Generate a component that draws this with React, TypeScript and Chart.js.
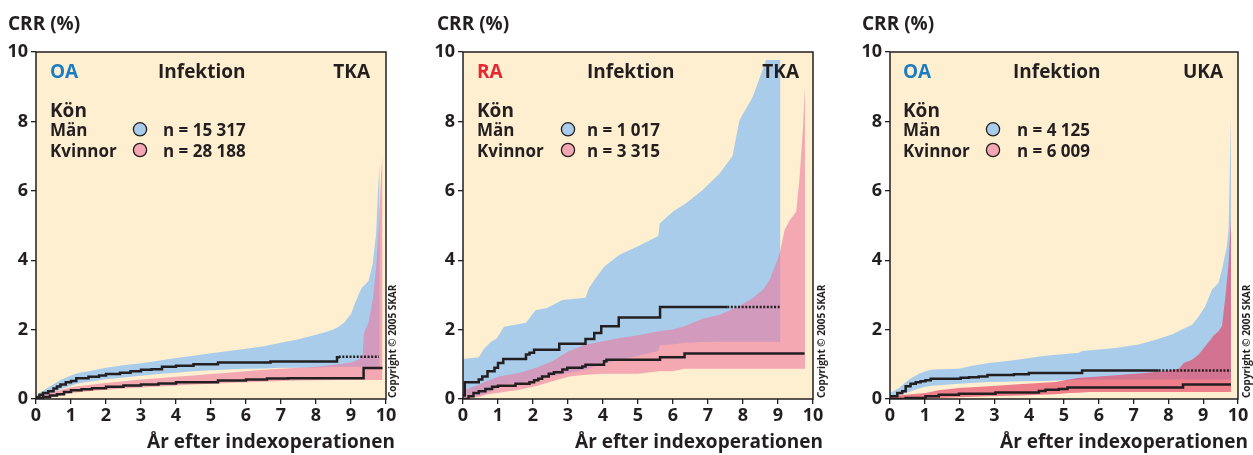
import React, { useEffect, useRef } from 'react';
import { Chart, registerables } from 'chart.js';

Chart.register(...registerables);

type Pt = [number, number];
type Band = [number, number, number]; // [x, lower, upper]

// ---------- shared texts / ticks ----------
const yAxisTitle = 'CRR (%)';
const xAxisTitle = 'År efter indexoperationen';
const copyrightText = 'Copyright © 2005 SKAR';
const outcomeLabel = 'Infektion';
const legendTitle = 'Kön';
const menLabel = 'Män';
const womenLabel = 'Kvinnor';
const diagnoses = ['OA', 'RA', 'OA'];
const implants = ['TKA', 'TKA', 'UKA'];
const menCounts = ['n = 15 317', 'n = 1 017', 'n = 4 125'];
const womenCounts = ['n = 28 188', 'n = 3 315', 'n = 6 009'];
const xMin = 0, xMax = 10, xStep = 1;
const yMin = 0, yMax = 10, yStep = 2;

// ---------- Panel 1: OA TKA ----------
const oaTkaMenLine: Pt[] = [
  [0, 0.05], [0.1, 0.12], [0.2, 0.17], [0.35, 0.22], [0.5, 0.3], [0.6, 0.36], [0.7, 0.42],
  [0.85, 0.48], [1.0, 0.52], [1.15, 0.6], [1.5, 0.64], [1.8, 0.68], [2.0, 0.72], [2.4, 0.76],
  [2.7, 0.8], [3.0, 0.84], [3.3, 0.86], [3.6, 0.93], [4.0, 0.96], [4.5, 1.0], [5.2, 1.05],
  [6.7, 1.08], [8.6, 1.2], [8.65, 1.22], [9.8, 1.22],
];
const oaTkaMenDottedFrom = 8.65;
const oaTkaMenBand: Band[] = [
  [0, 0.02, 0.1], [0.3, 0.1, 0.3], [0.5, 0.18, 0.42], [0.7, 0.28, 0.55], [1.0, 0.38, 0.68],
  [1.2, 0.45, 0.75], [1.5, 0.5, 0.8], [2.0, 0.57, 0.9], [2.5, 0.62, 0.97], [3.0, 0.67, 1.03],
  [3.5, 0.72, 1.1], [4.0, 0.76, 1.18], [4.5, 0.8, 1.25], [5.0, 0.83, 1.32], [5.5, 0.85, 1.38],
  [6.0, 0.87, 1.45], [6.5, 0.88, 1.52], [7.0, 0.9, 1.62], [7.5, 0.9, 1.72], [8.0, 0.91, 1.85],
  [8.4, 0.92, 1.97], [8.6, 0.93, 2.05], [8.8, 0.93, 2.2], [9.0, 0.93, 2.45], [9.15, 0.93, 2.85],
  [9.3, 0.93, 3.2], [9.5, 0.93, 3.4], [9.62, 0.93, 3.9], [9.72, 0.93, 4.8], [9.77, 0.93, 6.0],
  [9.82, 0.93, 6.8],
];
const oaTkaWomenLine: Pt[] = [
  [0, 0.02], [0.2, 0.06], [0.4, 0.1], [0.6, 0.14], [0.8, 0.2], [1.0, 0.25], [1.3, 0.28],
  [1.6, 0.31], [2.0, 0.35], [2.5, 0.39], [3.0, 0.42], [3.5, 0.45], [4.0, 0.48], [5.2, 0.53],
  [6.0, 0.56], [6.6, 0.59], [7.2, 0.6], [9.36, 0.89], [9.9, 0.89],
];
const oaTkaWomenBand: Band[] = [
  [0, 0, 0.06], [0.5, 0.06, 0.2], [1.0, 0.17, 0.34], [1.5, 0.22, 0.4], [2.0, 0.27, 0.46],
  [2.5, 0.3, 0.51], [3.0, 0.33, 0.56], [3.5, 0.36, 0.6], [4.0, 0.39, 0.64], [4.5, 0.42, 0.68],
  [5.0, 0.44, 0.72], [5.5, 0.46, 0.76], [6.0, 0.48, 0.8], [6.5, 0.5, 0.84], [7.0, 0.52, 0.87],
  [7.5, 0.53, 0.9], [8.0, 0.54, 0.93], [8.5, 0.55, 0.98], [9.0, 0.55, 1.05], [9.25, 0.55, 1.15],
  [9.33, 0.55, 1.25], [9.37, 0.55, 1.9], [9.5, 0.55, 2.2], [9.62, 0.55, 2.85], [9.72, 0.55, 3.8],
  [9.8, 0.55, 5.0], [9.86, 0.55, 6.5], [9.9, 0.55, 7.0],
];

// ---------- Panel 2: RA TKA ----------
const raTkaMenLine: Pt[] = [
  [0, 0.1], [0.05, 0.48], [0.45, 0.56], [0.55, 0.65], [0.7, 0.8], [0.9, 0.9], [1.0, 1.04],
  [1.15, 1.15], [1.8, 1.28], [1.9, 1.33], [2.03, 1.42], [2.75, 1.59], [3.5, 1.73], [3.75, 1.9],
  [3.95, 2.1], [4.45, 2.35], [5.63, 2.65], [7.55, 2.65], [9.05, 2.65],
];
const raTkaMenDottedFrom = 7.55;
const raTkaMenBand: Band[] = [
  [0, 0.05, 1.15], [0.45, 0.1, 1.2], [0.6, 0.15, 1.45], [0.8, 0.22, 1.65], [0.97, 0.3, 1.75],
  [1.17, 0.42, 2.08], [1.8, 0.48, 2.2], [2.07, 0.56, 2.56], [2.4, 0.62, 2.62], [2.84, 0.72, 2.85],
  [3.5, 0.84, 2.92], [3.6, 0.88, 3.2], [3.79, 0.95, 3.48], [4.03, 1.02, 3.81], [4.46, 1.12, 4.15],
  [5.0, 1.25, 4.4], [5.58, 1.38, 4.7], [5.62, 1.55, 5.06], [6.0, 1.58, 5.4], [6.37, 1.62, 5.64],
  [6.85, 1.64, 6.02], [7.33, 1.65, 6.5], [7.7, 1.65, 7.0], [7.9, 1.65, 8.04], [8.28, 1.65, 8.71],
  [8.66, 1.65, 9.77], [9.07, 1.65, 9.77],
];
const raTkaWomenLine: Pt[] = [
  [0, 0], [0.16, 0.08], [0.3, 0.17], [0.45, 0.22], [0.64, 0.29], [0.83, 0.35], [1.0, 0.38],
  [1.5, 0.44], [1.9, 0.48], [2.03, 0.54], [2.15, 0.58], [2.26, 0.65], [2.45, 0.73], [2.6, 0.77],
  [2.84, 0.85], [2.98, 0.9], [3.41, 0.94], [3.5, 0.99], [4.03, 1.09], [4.1, 1.13], [5.63, 1.2],
  [6.33, 1.31], [9.76, 1.31],
];
const raTkaWomenBand: Band[] = [
  [0, 0, 0.2], [0.07, 0.0, 0.27], [0.45, 0.06, 0.41], [0.64, 0.12, 0.5], [1.02, 0.18, 0.65],
  [1.6, 0.27, 0.75], [2.07, 0.37, 0.89], [2.55, 0.51, 1.09], [3.03, 0.65, 1.38], [3.5, 0.7, 1.57],
  [3.98, 0.73, 1.66], [4.46, 0.73, 1.76], [4.98, 0.73, 1.83], [5.6, 0.8, 1.95], [5.99, 0.8, 2.0],
  [6.33, 0.87, 2.1], [6.85, 0.87, 2.31], [7.33, 0.87, 2.43], [7.8, 0.87, 2.63], [8.28, 0.87, 2.91],
  [8.57, 0.87, 3.15], [8.76, 0.87, 3.44], [8.95, 0.87, 3.92], [9.05, 0.87, 4.2], [9.19, 0.87, 4.88],
  [9.34, 0.87, 5.16], [9.52, 0.87, 5.4], [9.61, 0.87, 6.3], [9.71, 0.87, 7.75], [9.77, 0.87, 9.0],
];

// ---------- Panel 3: OA UKA ----------
const oaUkaMenLine: Pt[] = [
  [0, 0.08], [0.21, 0.17], [0.35, 0.22], [0.45, 0.37], [0.59, 0.44], [0.74, 0.48], [0.88, 0.51],
  [1.02, 0.54], [1.17, 0.58], [2.03, 0.61], [2.27, 0.63], [2.55, 0.65], [2.8, 0.69], [3.56, 0.71],
  [3.99, 0.75], [5.52, 0.82], [7.72, 0.82], [9.8, 0.82],
];
const oaUkaMenDottedFrom = 7.72;
const oaUkaMenBand: Band[] = [
  [0, 0.03, 0.17], [0.26, 0.1, 0.32], [0.45, 0.17, 0.48], [0.55, 0.2, 0.56], [0.83, 0.3, 0.73],
  [1.02, 0.35, 0.8], [1.22, 0.38, 0.85], [1.98, 0.44, 0.87], [2.36, 0.46, 0.96], [2.84, 0.49, 1.04],
  [3.32, 0.5, 1.09], [3.8, 0.51, 1.15], [4.47, 0.52, 1.25], [5.04, 0.54, 1.3], [5.43, 0.55, 1.33],
  [5.52, 0.56, 1.38], [6.48, 0.56, 1.47], [7.15, 0.56, 1.57], [7.63, 0.56, 1.71], [8.1, 0.56, 1.86],
  [8.39, 0.56, 2.0], [8.68, 0.56, 2.14], [8.87, 0.56, 2.38], [9.06, 0.56, 2.67], [9.25, 0.56, 3.15],
  [9.44, 0.56, 3.35], [9.54, 0.56, 3.73], [9.68, 0.56, 4.4], [9.73, 0.56, 4.9], [9.8, 0.56, 8.2],
];
const oaUkaWomenLine: Pt[] = [
  [0, 0], [0.45, 0.03], [1.02, 0.08], [1.4, 0.12], [1.98, 0.15], [3.03, 0.19], [4.28, 0.23],
  [4.47, 0.27], [4.85, 0.29], [5.1, 0.33], [8.42, 0.42], [9.8, 0.42],
];
const oaUkaWomenBand: Band[] = [
  [0, 0, 0.08], [0.45, 0.01, 0.12], [1.02, 0.02, 0.17], [1.4, 0.03, 0.25], [1.98, 0.05, 0.32],
  [2.84, 0.08, 0.37], [3.8, 0.1, 0.43], [4.28, 0.12, 0.46], [4.76, 0.14, 0.49], [5.14, 0.17, 0.56],
  [5.43, 0.18, 0.61], [5.71, 0.2, 0.63], [6.0, 0.2, 0.65], [6.67, 0.2, 0.7], [7.34, 0.2, 0.75],
  [7.91, 0.2, 0.81], [8.3, 0.2, 0.87], [8.44, 0.2, 1.04], [8.68, 0.2, 1.13], [8.87, 0.2, 1.28],
  [9.06, 0.2, 1.52], [9.21, 0.2, 1.71], [9.3, 0.2, 1.83], [9.44, 0.2, 1.95], [9.54, 0.2, 2.1],
  [9.64, 0.2, 2.96], [9.73, 0.2, 3.92], [9.8, 0.2, 5.2],
];

// ---------- styles ----------
const INK = '#231f20';
const BEIGE = '#feefd0';
const BLUE = '#a9ccea';
const PINK_SOFT = 'rgba(236,122,158,0.61)';
const PINK_STRONG = 'rgba(230,76,106,0.69)';
const LEGEND_BLUE = '#a9ccea';
const LEGEND_PINK = '#f4a7b2';
const OA_COLOR = '#1a7dc4';
const RA_COLOR = '#e8262f';
const FONT = '"Open Sans", "Noto Sans", sans-serif';

interface PanelCfg {
  canvasLeft: number;
  canvasWidth: number;
  plotLeft: number;
  plotRight: number;
  idx: number;
  diagColor: string;
  menLine: Pt[];
  womenLine: Pt[];
  menBand: Band[];
  womenBand: Band[];
  menDottedFrom: number;
  womenFill: string;
  crrX: number;
  diagX: number;
  outcomeX: number;
  implantRight: number;
  circleX: number;
  countX: number;
  xTitleRight: number;
  copyX: number;
}

const panels: PanelCfg[] = [
  {
    canvasLeft: 0, canvasWidth: 420, plotLeft: 36, plotRight: 386, idx: 0, diagColor: OA_COLOR,
    menLine: oaTkaMenLine, womenLine: oaTkaWomenLine, menBand: oaTkaMenBand, womenBand: oaTkaWomenBand,
    menDottedFrom: oaTkaMenDottedFrom, womenFill: PINK_SOFT,
    crrX: 8, diagX: 50, outcomeX: 158, implantRight: 370, circleX: 140, countX: 163, xTitleRight: 395, copyX: 393,
  },
  {
    canvasLeft: 420, canvasWidth: 420, plotLeft: 43, plotRight: 393, idx: 1, diagColor: RA_COLOR,
    menLine: raTkaMenLine, womenLine: raTkaWomenLine, menBand: raTkaMenBand, womenBand: raTkaWomenBand,
    menDottedFrom: raTkaMenDottedFrom, womenFill: PINK_SOFT,
    crrX: 17, diagX: 57, outcomeX: 167, implantRight: 379, circleX: 148, countX: 167, xTitleRight: 403, copyX: 402,
  },
  {
    canvasLeft: 840, canvasWidth: 413, plotLeft: 50, plotRight: 398, idx: 2, diagColor: OA_COLOR,
    menLine: oaUkaMenLine, womenLine: oaUkaWomenLine, menBand: oaUkaMenBand, womenBand: oaUkaWomenBand,
    menDottedFrom: oaUkaMenDottedFrom, womenFill: PINK_STRONG,
    crrX: 22, diagX: 63, outcomeX: 173, implantRight: 383, circleX: 153, countX: 177, xTitleRight: 408, copyX: 407,
  },
];

const H = 455;
const PLOT_TOP = 52;
const PLOT_BOTTOM = 399;

function makeChart(canvas: HTMLCanvasElement, p: PanelCfg): Chart {
  const bandPts = (b: Band[], k: 1 | 2) => b.map((r) => ({ x: r[0], y: r[k] }));
  const linePts = (l: Pt[]) => l.map((r) => ({ x: r[0], y: r[1] }));
  const clear = 'rgba(0,0,0,0)';

  const decor = {
    id: 'decor' + p.idx,
    beforeDraw(chart: any) {
      const { ctx, chartArea: a } = chart;
      ctx.save();
      ctx.fillStyle = BEIGE;
      ctx.fillRect(a.left, a.top, a.right - a.left, a.bottom - a.top);
      ctx.restore();
    },
    afterDraw(chart: any) {
      const { ctx, chartArea: a } = chart;
      ctx.save();
      ctx.strokeStyle = INK;
      ctx.lineWidth = 1.5;
      ctx.strokeRect(a.left, a.top, a.right - a.left, a.bottom - a.top);

      ctx.fillStyle = INK;
      ctx.textBaseline = 'alphabetic';
      ctx.textAlign = 'left';
      ctx.font = `bold 19px ${FONT}`;
      ctx.fillText(yAxisTitle, p.crrX, 30);

      // header row inside plot
      ctx.fillStyle = p.diagColor;
      ctx.fillText(diagnoses[p.idx], p.diagX, 78);
      ctx.fillStyle = INK;
      ctx.fillText(outcomeLabel, p.outcomeX, 78);
      ctx.textAlign = 'right';
      ctx.fillText(implants[p.idx], p.implantRight, 78);

      // legend
      ctx.textAlign = 'left';
      ctx.font = `bold 19px ${FONT}`;
      ctx.fillText(legendTitle, p.diagX, 116.5);
      ctx.font = `bold 17px ${FONT}`;
      ctx.fillText(menLabel, p.diagX, 136);
      ctx.fillText(womenLabel, p.diagX, 156.5);
      ctx.fillText(menCounts[p.idx], p.countX, 136);
      ctx.fillText(womenCounts[p.idx], p.countX, 156.5);
      const circ = (y: number, c: string) => {
        ctx.beginPath();
        ctx.arc(p.circleX, y, 6.6, 0, Math.PI * 2);
        ctx.fillStyle = c;
        ctx.fill();
        ctx.lineWidth = 1.3;
        ctx.strokeStyle = INK;
        ctx.stroke();
      };
      circ(129.3, LEGEND_BLUE);
      circ(150, LEGEND_PINK);

      // x-axis title
      ctx.fillStyle = INK;
      ctx.textAlign = 'right';
      ctx.font = `bold 19px ${FONT}`;
      ctx.fillText(xAxisTitle, p.xTitleRight, 448);

      // copyright
      ctx.translate(p.copyX, 398);
      ctx.rotate(-Math.PI / 2);
      ctx.textAlign = 'left';
      ctx.textBaseline = 'middle';
      ctx.font = `bold 10px ${FONT}`;
      ctx.fillText(copyrightText, 0, 0);
      ctx.restore();
    },
  };

  const lineCommon = {
    pointRadius: 0,
    tension: 0,
  };

  return new Chart(canvas, {
    type: 'line',
    data: {
      datasets: [
        { ...lineCommon, data: bandPts(p.menBand, 2), fill: '+1', backgroundColor: BLUE, borderColor: clear, borderWidth: 0.01, order: 4 },
        { ...lineCommon, data: bandPts(p.menBand, 1), fill: false, borderColor: clear, borderWidth: 0.01, order: 4 },
        { ...lineCommon, data: bandPts(p.womenBand, 2), fill: '+1', backgroundColor: p.womenFill, borderColor: clear, borderWidth: 0.01, order: 3 },
        { ...lineCommon, data: bandPts(p.womenBand, 1), fill: false, borderColor: clear, borderWidth: 0.01, order: 3 },
        {
          ...lineCommon, data: linePts(p.menLine), stepped: true, fill: false, borderColor: INK, borderWidth: 2.5, order: 1,
          segment: { borderDash: (c: any) => (c.p0.parsed.x >= p.menDottedFrom - 1e-6 ? [2, 1.6] : undefined) },
        },
        { ...lineCommon, data: linePts(p.womenLine), stepped: true, fill: false, borderColor: INK, borderWidth: 2.5, order: 1 },
      ] as any,
    },
    options: {
      responsive: false,
      animation: false,
      events: [],
      layout: { padding: { left: 0, top: PLOT_TOP, right: p.canvasWidth - p.plotRight, bottom: 0 } },
      plugins: { legend: { display: false }, tooltip: { enabled: false }, title: { display: false } },
      scales: {
        x: {
          type: 'linear', min: xMin, max: xMax,
          afterFit: (s: any) => { s.height = H - PLOT_BOTTOM; },
          ticks: { stepSize: xStep, color: INK, font: { family: FONT, size: 18, weight: 'bold' }, padding: 1, maxRotation: 0 },
          grid: { display: true, drawOnChartArea: false, drawTicks: true, tickLength: 5, color: INK, lineWidth: 1.3 },
          border: { display: false },
        },
        y: {
          type: 'linear', min: yMin, max: yMax,
          afterFit: (s: any) => { s.width = p.plotLeft; },
          ticks: { stepSize: yStep, color: INK, font: { family: FONT, size: 18, weight: 'bold' }, padding: 3 },
          grid: { display: true, drawOnChartArea: false, drawTicks: true, tickLength: 5, color: INK, lineWidth: 1.3 },
          border: { display: false },
        },
      },
    } as any,
    plugins: [decor],
  });
}

function Panel({ p }: { p: PanelCfg }) {
  const ref = useRef<HTMLCanvasElement | null>(null);
  useEffect(() => {
    if (!ref.current) return;
    const chart = makeChart(ref.current, p);
    return () => chart.destroy();
  }, [p]);
  return (
    <canvas
      ref={ref}
      width={p.canvasWidth}
      height={H}
      style={{ position: 'absolute', left: p.canvasLeft, top: 0, width: p.canvasWidth, height: H }}
    />
  );
}

export default function App() {
  return (
    <div style={{ position: 'absolute', left: 0, top: 0, width: 1253, height: H, background: '#ffffff', overflow: 'hidden' }}>
      {panels.map((p) => (
        <Panel key={p.idx} p={p} />
      ))}
    </div>
  );
}
